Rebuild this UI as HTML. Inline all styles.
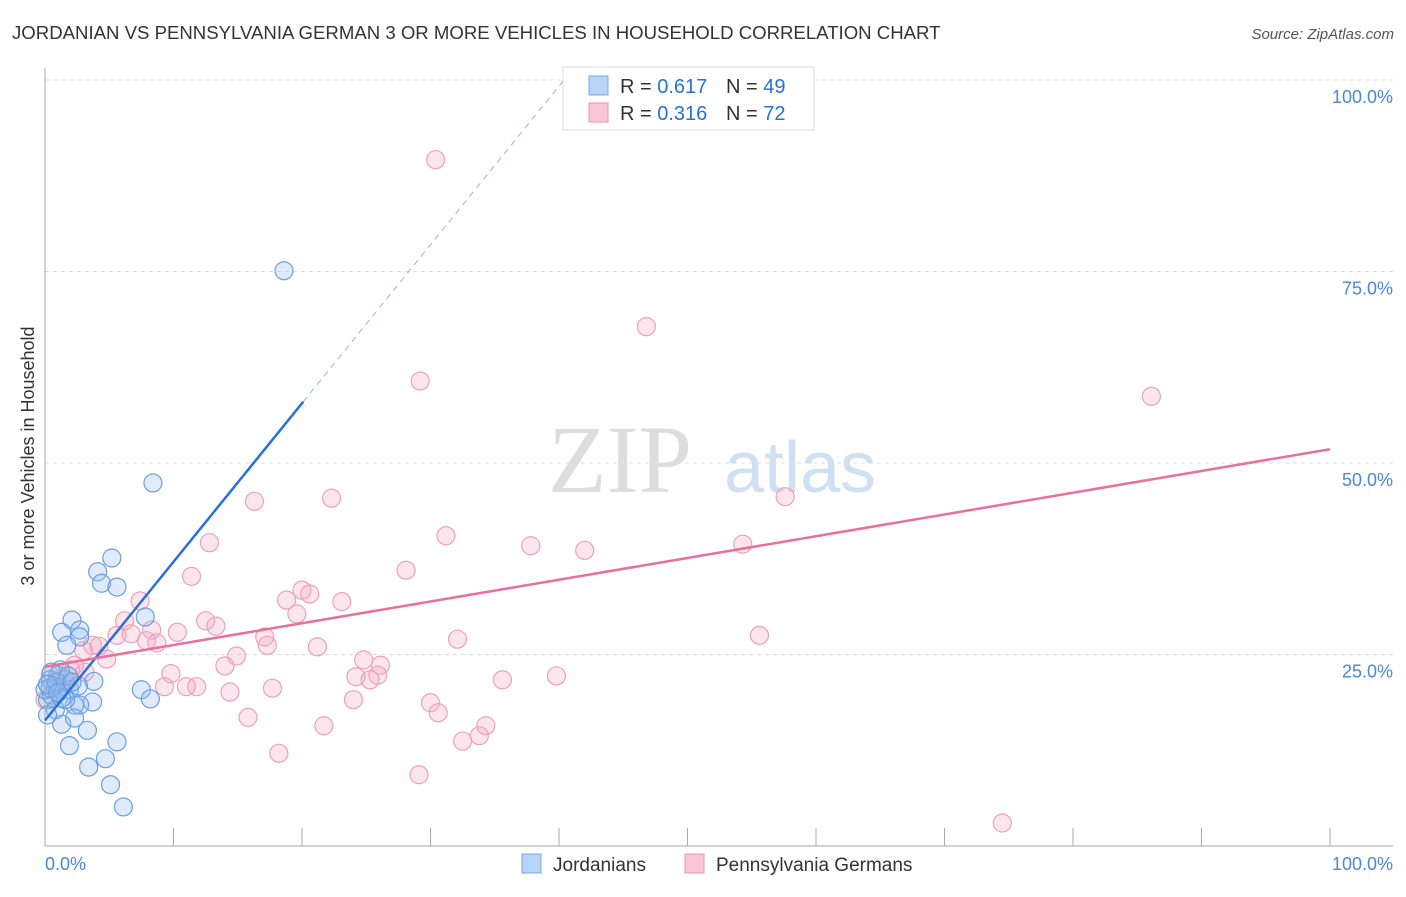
<!DOCTYPE html>
<html><head><meta charset="utf-8"><style>
body{margin:0;background:#fff;font-family:"Liberation Sans",sans-serif}
</style></head><body>
<svg id="c" width="1406" height="892" xmlns="http://www.w3.org/2000/svg" style="font-family:'Liberation Sans',sans-serif">
<text x="12" y="39" font-size="18.6" fill="#333">JORDANIAN VS PENNSYLVANIA GERMAN 3 OR MORE VEHICLES IN HOUSEHOLD CORRELATION CHART</text>
<text x="1394" y="39" font-size="15" fill="#555" font-style="italic" text-anchor="end">Source: ZipAtlas.com</text>
<text x="0" y="0" transform="translate(34,456) rotate(-90)" font-size="18" fill="#333" text-anchor="middle">3 or more Vehicles in Household</text>
<text x="620" y="492" font-size="96" fill="#ddd" font-family="Liberation Serif" text-anchor="middle">ZIP</text>
<text x="800" y="492" font-size="72" fill="#cfe0f2" text-anchor="middle">atlas</text>
<g id="grid"></g><g id="axes"></g><g id="pts"></g><g id="lines"></g>
<g>
<rect x="563" y="67" width="251" height="63" fill="#fff" stroke="#ddd"/>
<rect x="589" y="76" width="19" height="19" fill="#b8d4f5" stroke="#7aa9e6"/>
<text x="620" y="93" font-size="20" fill="#333">R = <tspan fill="#2a6fd6">0.617</tspan></text>
<text x="726" y="93" font-size="20" fill="#333">N = <tspan fill="#2a6fd6">49</tspan></text>
<rect x="589" y="103" width="19" height="19" fill="#f8c6d6" stroke="#eb93b1"/>
<text x="620" y="120" font-size="20" fill="#333">R = <tspan fill="#2a6fd6">0.316</tspan></text>
<text x="726" y="120" font-size="20" fill="#333">N = <tspan fill="#2a6fd6">72</tspan></text>
</g>
<g>
<rect x="522" y="854" width="19" height="19" fill="#b8d4f5" stroke="#7aa9e6"/>
<text x="553" y="871" font-size="19" fill="#333">Jordanians</text>
<rect x="685" y="854" width="19" height="19" fill="#f8c6d6" stroke="#eb93b1"/>
<text x="716" y="871" font-size="19" fill="#333">Pennsylvania Germans</text>
</g>
</svg>
<script>
const blueX=[18.6,8.4,5.2,4.1,4.4,5.6,7.8,2.1,1.3,2.7,2.7,1.7,3.8,7.5,8.2,3.7,2.7,2.3,3.3,1.3,1.9,5.6,3.4,4.7,5.1,6.1,0.4,0.8,1.2,0.2,0.5,1.0,1.6,1.9,0.8,0.2,1.6,2.3,1.2,0,1.8,0.5,1.3,2.6,0.4,0.9,0.2,2.1,1.0];
const blueY=[75.1,47.4,37.6,35.8,34.3,33.8,29.9,29.5,27.9,28.2,27.3,26.2,21.5,20.4,19.2,18.8,18.4,18.4,15.1,15.9,13.1,13.6,10.3,11.4,8.0,5.1,21.7,21.0,20.4,19.1,19.7,22.3,21.7,20.4,17.8,17.1,19.1,16.7,23.0,20.4,22.2,22.7,19.3,20.9,20.6,21.4,21.1,21.4,20.0];
const pinkX=[30.4,46.8,29.2,86.1,22.3,16.3,57.6,31.2,12.8,37.8,42.0,54.3,28.1,11.4,20.0,20.6,7.4,18.8,23.1,6.2,12.5,13.3,8.3,10.3,19.6,5.6,6.7,17.1,17.3,32.1,55.6,7.9,8.7,3.7,21.2,4.2,3.0,4.8,14.9,24.8,26.1,14.0,9.8,24.2,25.3,25.9,35.6,39.8,2.0,1.2,3.1,9.3,11.0,11.8,14.4,17.7,24.0,30.0,30.6,15.8,21.7,34.3,33.8,32.5,18.2,29.1,74.5,0.8,1.6,0.4,2.3,0];
const pinkY=[89.6,67.8,60.7,58.7,45.4,45.0,45.6,40.5,39.6,39.2,38.6,39.4,36.0,35.2,33.4,32.9,32.0,32.1,31.9,29.4,29.4,28.7,28.2,27.9,30.3,27.5,27.7,27.3,26.2,27.0,27.5,26.8,26.5,26.2,26.0,26.1,25.5,24.4,24.8,24.3,23.6,23.5,22.5,22.1,21.7,22.3,21.7,22.2,23.0,21.7,22.7,20.8,20.8,20.8,20.1,20.6,19.1,18.7,17.4,16.8,15.7,15.7,14.4,13.7,12.1,9.3,3.0,20.4,21.3,22.3,23.6,19.1];
const yTicks=[25,50,75,100];
const yTickLabels=["25.0%","50.0%","75.0%","100.0%"];
const blueTrend=[16.4,2.07];
const pinkTrend=[23.4,0.284];
const NS="http://www.w3.org/2000/svg";
const sx=v=>45+v*12.85, sy=v=>846-v*7.66;
function mk(tag,at,parent){const e=document.createElementNS(NS,tag);for(const k in at)e.setAttribute(k,at[k]);document.getElementById(parent).appendChild(e);return e;}
yTicks.forEach((t,i)=>{
 const g=mk('line',{x1:45,x2:1393,y1:sy(t),y2:sy(t),stroke:'#ddd','stroke-dasharray':'4,4'},'grid');
 
 
 const l=mk('text',{x:1393,y:sy(t)+23,'font-size':18,fill:'#4a86d8','text-anchor':'end'},'grid');
 l.textContent=yTickLabels[i];
 
 
});
const ax=mk('line',{x1:45,x2:1393,y1:846,y2:846,stroke:'#aaa'},'axes');


const ay=mk('line',{x1:45,x2:45,y1:68,y2:846,stroke:'#aaa'},'axes');


for(let i=1;i<=10;i++){const t=mk('line',{x1:sx(i*10),x2:sx(i*10),y1:828,y2:846,stroke:'#aaa'},'axes');
 
 }
const x0=mk('text',{x:45,y:870,'font-size':18,fill:'#4a86d8'},'axes');x0.textContent='0.0%';


const x1=mk('text',{x:1393,y:870,'font-size':18,fill:'#4a86d8','text-anchor':'end'},'axes');x1.textContent='100.0%';


pinkX.forEach((x,i)=>{const c=mk('circle',{cx:sx(x),cy:sy(pinkY[i]),r:9,fill:'rgba(246,170,196,0.3)',stroke:'#eda0bb','stroke-width':1.2},'pts');
 
 });
blueX.forEach((x,i)=>{const c=mk('circle',{cx:sx(x),cy:sy(blueY[i]),r:9,fill:'rgba(150,190,240,0.3)',stroke:'#6b9ee0','stroke-width':1.2},'pts');
 
 });
const bl=mk('line',{x1:sx(0),y1:sy(blueTrend[0]),x2:sx(20.1),y2:sy(blueTrend[0]+blueTrend[1]*20.1),stroke:'#2a6fd6','stroke-width':2.5},'lines');


const xe=(100-blueTrend[0])/blueTrend[1];
const bd=mk('line',{x1:sx(20.1),y1:sy(blueTrend[0]+blueTrend[1]*20.1),x2:sx(xe),y2:sy(100),stroke:'#8fb5e8','stroke-width':1,'stroke-dasharray':'6,5'},'lines');


const pl=mk('line',{x1:sx(0),y1:sy(pinkTrend[0]),x2:sx(100),y2:sy(pinkTrend[0]+pinkTrend[1]*100),stroke:'#e8709a','stroke-width':2.5},'lines');


</script>
</body></html>
